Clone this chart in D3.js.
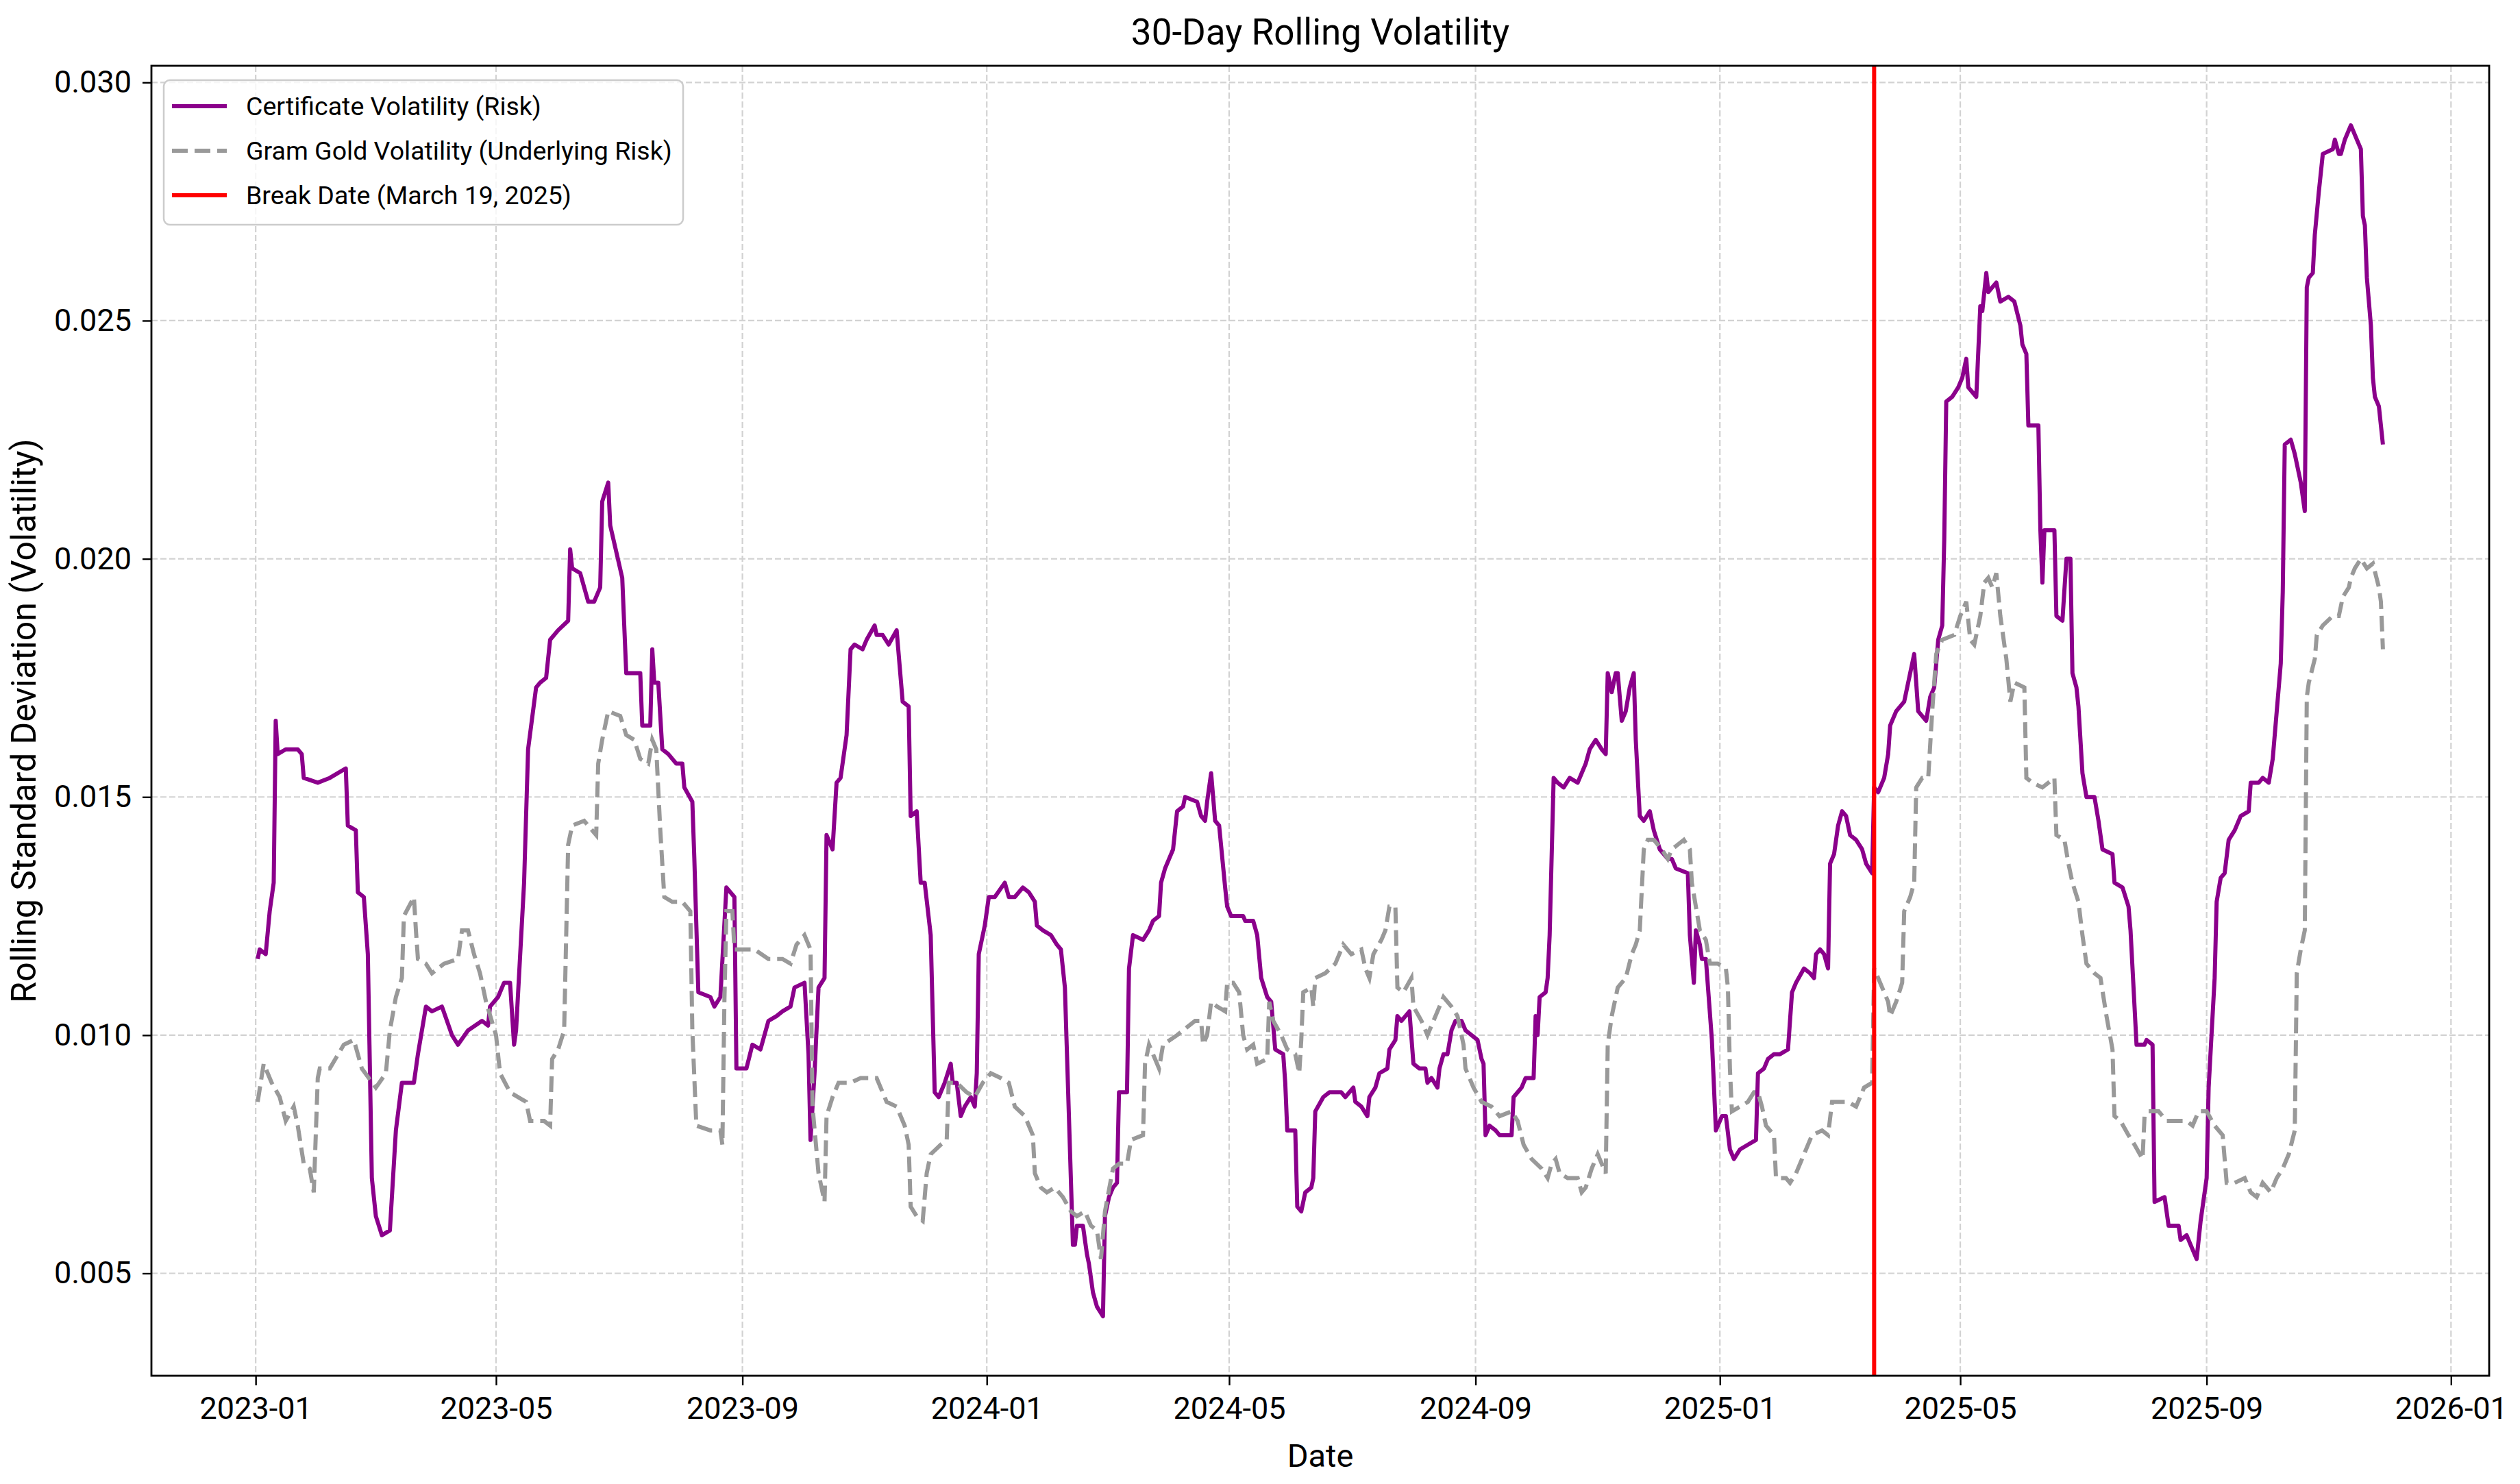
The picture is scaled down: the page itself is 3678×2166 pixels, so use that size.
<!DOCTYPE html>
<html lang="en">
<head>
  <title>30-Day Rolling Volatility</title>
  <script type="text/javascript" src="https://cdnjs.cloudflare.com/ajax/libs/d3/7.8.5/d3.min.js"></script>
  <style>
    body {
      margin: 0px;
      background: #ffffff;
    }
    svg {
      display: block;
    }
    text {
      font-family: Roboto, "Liberation Sans", sans-serif;
      fill: #000000;
    }
  </style>
</head>
<body>
  <script type="text/javascript">
    var width = 3678;
    var height = 2166;
    var margin = {top: 96, right: 45, bottom: 158, left: 221};

    // rolling std of the certificate returns
    var certificate = [
      ["2023-01-02",0.0116],["2023-01-03",0.0118],["2023-01-06",0.0117],["2023-01-08",0.0126],["2023-01-10",0.0132],
      ["2023-01-11",0.0166],["2023-01-12",0.0159],["2023-01-16",0.0160],["2023-01-22",0.0160],["2023-01-24",0.0159],
      ["2023-01-25",0.0154],["2023-02-01",0.0153],["2023-02-07",0.0154],["2023-02-15",0.0156],["2023-02-16",0.0144],
      ["2023-02-20",0.0143],["2023-02-21",0.0130],["2023-02-24",0.0129],["2023-02-26",0.0117],["2023-02-28",0.0070],
      ["2023-03-02",0.0062],["2023-03-05",0.0058],["2023-03-09",0.0059],["2023-03-12",0.0080],["2023-03-15",0.0090],
      ["2023-03-21",0.0090],["2023-03-23",0.0096],["2023-03-27",0.0106],["2023-03-30",0.0105],["2023-04-04",0.0106],
      ["2023-04-09",0.0100],["2023-04-12",0.0098],["2023-04-17",0.0101],["2023-04-24",0.0103],["2023-04-27",0.0102],
      ["2023-04-28",0.0106],["2023-05-02",0.0108],["2023-05-05",0.0111],["2023-05-08",0.0111],["2023-05-10",0.0098],
      ["2023-05-11",0.0101],["2023-05-15",0.0132],["2023-05-17",0.0160],["2023-05-21",0.0173],["2023-05-23",0.0174],
      ["2023-05-26",0.0175],["2023-05-28",0.0183],["2023-06-01",0.0185],["2023-06-06",0.0187],["2023-06-07",0.0202],
      ["2023-06-08",0.0198],["2023-06-12",0.0197],["2023-06-16",0.0191],["2023-06-19",0.0191],["2023-06-22",0.0194],
      ["2023-06-23",0.0212],["2023-06-26",0.0216],["2023-06-27",0.0207],["2023-07-03",0.0196],["2023-07-04",0.0186],
      ["2023-07-05",0.0176],["2023-07-12",0.0176],["2023-07-13",0.0165],["2023-07-17",0.0165],["2023-07-18",0.0181],
      ["2023-07-19",0.0174],["2023-07-21",0.0174],["2023-07-23",0.0160],["2023-07-26",0.0159],["2023-07-30",0.0157],
      ["2023-08-02",0.0157],["2023-08-03",0.0152],["2023-08-07",0.0149],["2023-08-08",0.0137],["2023-08-10",0.0109],
      ["2023-08-16",0.0108],["2023-08-18",0.0106],["2023-08-21",0.0108],["2023-08-24",0.0131],["2023-08-28",0.0129],
      ["2023-08-29",0.0093],["2023-09-03",0.0093],["2023-09-06",0.0098],["2023-09-10",0.0097],["2023-09-14",0.0103],
      ["2023-09-18",0.0104],["2023-09-21",0.0105],["2023-09-25",0.0106],["2023-09-27",0.0110],["2023-10-02",0.0111],
      ["2023-10-04",0.0096],["2023-10-05",0.0078],["2023-10-07",0.0092],["2023-10-09",0.0110],["2023-10-12",0.0112],
      ["2023-10-13",0.0142],["2023-10-16",0.0139],["2023-10-18",0.0153],["2023-10-20",0.0154],["2023-10-23",0.0163],
      ["2023-10-25",0.0181],["2023-10-27",0.0182],["2023-10-31",0.0181],["2023-11-02",0.0183],["2023-11-06",0.0186],
      ["2023-11-07",0.0184],["2023-11-10",0.0184],["2023-11-13",0.0182],["2023-11-17",0.0185],["2023-11-20",0.0170],
      ["2023-11-23",0.0169],["2023-11-24",0.0146],["2023-11-27",0.0147],["2023-11-29",0.0132],["2023-12-01",0.0132],
      ["2023-12-04",0.0121],["2023-12-06",0.0088],["2023-12-08",0.0087],["2023-12-11",0.0090],["2023-12-14",0.0094],
      ["2023-12-15",0.0090],["2023-12-17",0.0090],["2023-12-19",0.0083],["2023-12-21",0.0085],["2023-12-24",0.0087],
      ["2023-12-26",0.0085],["2023-12-27",0.0092],["2023-12-28",0.0117],["2023-12-31",0.0123],
      ["2024-01-02",0.0129],["2024-01-05",0.0129],["2024-01-10",0.0132],["2024-01-12",0.0129],["2024-01-15",0.0129],
      ["2024-01-19",0.0131],["2024-01-22",0.0130],["2024-01-25",0.0128],["2024-01-26",0.0123],["2024-01-29",0.0122],
      ["2024-02-02",0.0121],["2024-02-05",0.0119],["2024-02-07",0.0118],["2024-02-09",0.0110],["2024-02-11",0.0083],
      ["2024-02-13",0.0056],["2024-02-14",0.0056],["2024-02-15",0.0060],["2024-02-18",0.0060],["2024-02-20",0.0054],
      ["2024-02-21",0.0052],["2024-02-23",0.0046],["2024-02-25",0.0043],["2024-02-28",0.0041],["2024-02-29",0.0062],
      ["2024-03-02",0.0066],["2024-03-04",0.0068],["2024-03-06",0.0069],["2024-03-07",0.0088],["2024-03-11",0.0088],
      ["2024-03-12",0.0114],["2024-03-14",0.0121],["2024-03-19",0.0120],["2024-03-22",0.0122],["2024-03-24",0.0124],
      ["2024-03-27",0.0125],["2024-03-28",0.0132],["2024-03-30",0.0135],["2024-04-01",0.0137],["2024-04-03",0.0139],
      ["2024-04-05",0.0147],["2024-04-08",0.0148],["2024-04-09",0.0150],["2024-04-15",0.0149],["2024-04-17",0.0146],
      ["2024-04-19",0.0145],["2024-04-20",0.0149],["2024-04-22",0.0155],["2024-04-23",0.0150],["2024-04-24",0.0145],
      ["2024-04-26",0.0144],["2024-04-29",0.0131],["2024-04-30",0.0127],["2024-05-02",0.0125],["2024-05-08",0.0125],
      ["2024-05-09",0.0124],["2024-05-13",0.0124],["2024-05-15",0.0121],["2024-05-17",0.0112],["2024-05-20",0.0108],
      ["2024-05-22",0.0107],["2024-05-24",0.0097],["2024-05-28",0.0096],["2024-05-29",0.0090],["2024-05-30",0.0080],
      ["2024-06-03",0.0080],["2024-06-04",0.0064],["2024-06-06",0.0063],["2024-06-08",0.0067],["2024-06-11",0.0068],
      ["2024-06-12",0.0070],["2024-06-13",0.0084],["2024-06-17",0.0087],["2024-06-20",0.0088],["2024-06-25",0.0088],
      ["2024-06-26",0.0088],["2024-06-28",0.0087],["2024-07-02",0.0089],["2024-07-03",0.0086],["2024-07-06",0.0085],
      ["2024-07-09",0.0083],["2024-07-10",0.0087],["2024-07-13",0.0089],["2024-07-15",0.0092],["2024-07-19",0.0093],
      ["2024-07-20",0.0097],["2024-07-23",0.0099],["2024-07-24",0.0104],["2024-07-26",0.0103],["2024-07-28",0.0104],
      ["2024-07-30",0.0105],["2024-08-01",0.0094],["2024-08-04",0.0093],["2024-08-07",0.0093],["2024-08-08",0.0090],
      ["2024-08-10",0.0091],["2024-08-13",0.0089],["2024-08-14",0.0093],["2024-08-16",0.0096],["2024-08-18",0.0096],
      ["2024-08-20",0.0101],["2024-08-22",0.0103],["2024-08-25",0.0103],["2024-08-27",0.0101],["2024-08-30",0.0100],
      ["2024-09-02",0.0099],["2024-09-04",0.0095],["2024-09-05",0.0094],["2024-09-06",0.0079],["2024-09-08",0.0081],
      ["2024-09-11",0.0080],["2024-09-13",0.0079],["2024-09-19",0.0079],["2024-09-20",0.0087],["2024-09-24",0.0089],
      ["2024-09-26",0.0091],["2024-09-30",0.0091],["2024-10-01",0.0104],["2024-10-02",0.0100],["2024-10-03",0.0108],
      ["2024-10-06",0.0109],["2024-10-07",0.0112],["2024-10-08",0.0121],["2024-10-10",0.0154],["2024-10-12",0.0153],
      ["2024-10-15",0.0152],["2024-10-18",0.0154],["2024-10-22",0.0153],["2024-10-24",0.0155],["2024-10-26",0.0157],
      ["2024-10-28",0.0160],["2024-10-31",0.0162],["2024-11-03",0.0160],["2024-11-05",0.0159],["2024-11-06",0.0176],
      ["2024-11-08",0.0172],["2024-11-10",0.0176],["2024-11-11",0.0176],["2024-11-13",0.0166],["2024-11-15",0.0168],
      ["2024-11-17",0.0173],["2024-11-19",0.0176],["2024-11-20",0.0162],["2024-11-22",0.0146],["2024-11-24",0.0145],
      ["2024-11-27",0.0147],["2024-11-29",0.0143],["2024-12-02",0.0139],["2024-12-06",0.0137],["2024-12-08",0.0137],
      ["2024-12-10",0.0135],["2024-12-16",0.0134],["2024-12-17",0.0121],["2024-12-19",0.0111],["2024-12-20",0.0122],
      ["2024-12-22",0.0119],["2024-12-23",0.0116],["2024-12-25",0.0116],["2024-12-28",0.0099],["2024-12-30",0.0080],
      ["2025-01-02",0.0083],["2025-01-04",0.0083],["2025-01-06",0.0076],["2025-01-08",0.0074],["2025-01-11",0.0076],
      ["2025-01-15",0.0077],["2025-01-19",0.0078],["2025-01-20",0.0092],["2025-01-23",0.0093],["2025-01-25",0.0095],
      ["2025-01-28",0.0096],["2025-01-31",0.0096],["2025-02-04",0.0097],["2025-02-06",0.0109],["2025-02-08",0.0111],
      ["2025-02-12",0.0114],["2025-02-15",0.0113],["2025-02-17",0.0112],["2025-02-18",0.0117],["2025-02-20",0.0118],
      ["2025-02-22",0.0117],["2025-02-24",0.0114],["2025-02-25",0.0136],["2025-02-27",0.0138],["2025-03-01",0.0144],
      ["2025-03-03",0.0147],["2025-03-05",0.0146],["2025-03-07",0.0142],["2025-03-10",0.0141],["2025-03-13",0.0139],
      ["2025-03-15",0.0136],["2025-03-18",0.0134],["2025-03-19",0.0152],["2025-03-21",0.0151],["2025-03-24",0.0154],
      ["2025-03-26",0.0159],["2025-03-27",0.0165],["2025-03-30",0.0168],["2025-04-03",0.0170],["2025-04-06",0.0176],
      ["2025-04-08",0.0180],["2025-04-10",0.0168],["2025-04-14",0.0166],["2025-04-16",0.0171],["2025-04-18",0.0173],
      ["2025-04-20",0.0183],["2025-04-22",0.0186],["2025-04-23",0.0204],["2025-04-24",0.0233],["2025-04-27",0.0234],
      ["2025-04-30",0.0236],["2025-05-02",0.0238],["2025-05-04",0.0242],["2025-05-05",0.0236],["2025-05-07",0.0235],
      ["2025-05-09",0.0234],["2025-05-11",0.0253],["2025-05-12",0.0252],["2025-05-14",0.0260],["2025-05-15",0.0256],
      ["2025-05-19",0.0258],["2025-05-21",0.0254],["2025-05-25",0.0255],["2025-05-28",0.0254],["2025-05-31",0.0249],
      ["2025-06-01",0.0245],["2025-06-03",0.0243],["2025-06-04",0.0228],["2025-06-09",0.0228],["2025-06-10",0.0206],
      ["2025-06-11",0.0195],["2025-06-12",0.0206],["2025-06-17",0.0206],["2025-06-18",0.0188],["2025-06-21",0.0187],
      ["2025-06-23",0.0200],["2025-06-25",0.0200],["2025-06-26",0.0176],["2025-06-28",0.0173],["2025-06-29",0.0169],
      ["2025-07-01",0.0155],["2025-07-03",0.0150],["2025-07-07",0.0150],["2025-07-09",0.0145],["2025-07-11",0.0139],
      ["2025-07-16",0.0138],["2025-07-17",0.0132],["2025-07-21",0.0131],["2025-07-24",0.0127],["2025-07-25",0.0122],
      ["2025-07-28",0.0098],["2025-08-01",0.0098],["2025-08-02",0.0099],["2025-08-05",0.0098],["2025-08-06",0.0065],
      ["2025-08-11",0.0066],["2025-08-13",0.0060],["2025-08-18",0.0060],["2025-08-19",0.0057],["2025-08-22",0.0058],
      ["2025-08-24",0.0056],["2025-08-27",0.0053],["2025-08-29",0.0061],["2025-09-01",0.0070],["2025-09-02",0.0089],
      ["2025-09-05",0.0112],["2025-09-06",0.0128],["2025-09-08",0.0133],["2025-09-10",0.0134],["2025-09-12",0.0141],
      ["2025-09-15",0.0143],["2025-09-18",0.0146],["2025-09-22",0.0147],["2025-09-23",0.0153],["2025-09-27",0.0153],
      ["2025-09-29",0.0154],["2025-10-02",0.0153],["2025-10-04",0.0158],["2025-10-06",0.0168],["2025-10-08",0.0178],
      ["2025-10-09",0.0193],["2025-10-10",0.0224],["2025-10-13",0.0225],["2025-10-15",0.0222],["2025-10-18",0.0216],
      ["2025-10-20",0.0210],["2025-10-21",0.0257],["2025-10-22",0.0259],["2025-10-24",0.0260],["2025-10-25",0.0268],
      ["2025-10-27",0.0277],["2025-10-29",0.0285],["2025-11-03",0.0286],["2025-11-04",0.0288],["2025-11-06",0.0285],
      ["2025-11-07",0.0285],["2025-11-09",0.0288],["2025-11-12",0.0291],["2025-11-14",0.0289],["2025-11-17",0.0286],
      ["2025-11-18",0.0272],["2025-11-19",0.0270],["2025-11-20",0.0259],["2025-11-22",0.0249],["2025-11-23",0.0238],
      ["2025-11-24",0.0234],["2025-11-26",0.0232],["2025-11-28",0.0224]
    ];

    // rolling std of gram gold returns
    var gramGold = [
      ["2023-01-02",0.0086],["2023-01-05",0.0094],["2023-01-09",0.0090],["2023-01-13",0.0087],["2023-01-16",0.0082],
      ["2023-01-20",0.0085],["2023-01-22",0.0081],["2023-01-25",0.0073],["2023-01-28",0.0072],["2023-01-30",0.0067],
      ["2023-02-01",0.0091],["2023-02-02",0.0093],["2023-02-07",0.0093],["2023-02-14",0.0098],["2023-02-19",0.0099],
      ["2023-02-23",0.0093],["2023-03-02",0.0089],["2023-03-07",0.0092],["2023-03-09",0.0101],["2023-03-12",0.0108],
      ["2023-03-15",0.0112],["2023-03-16",0.0125],["2023-03-21",0.0129],["2023-03-22",0.0122],["2023-03-23",0.0116],
      ["2023-03-27",0.0115],["2023-03-30",0.0113],["2023-04-05",0.0115],["2023-04-12",0.0116],["2023-04-14",0.0122],
      ["2023-04-17",0.0122],["2023-04-20",0.0117],["2023-04-23",0.0113],["2023-04-26",0.0107],["2023-05-01",0.0100],
      ["2023-05-03",0.0092],["2023-05-08",0.0088],["2023-05-16",0.0086],["2023-05-18",0.0082],["2023-05-25",0.0082],
      ["2023-05-28",0.0081],["2023-05-29",0.0095],["2023-06-01",0.0097],["2023-06-04",0.0101],["2023-06-06",0.0140],
      ["2023-06-08",0.0144],["2023-06-14",0.0145],["2023-06-16",0.0144],["2023-06-20",0.0142],["2023-06-21",0.0157],
      ["2023-06-23",0.0162],["2023-06-26",0.0168],["2023-07-02",0.0167],["2023-07-05",0.0163],["2023-07-09",0.0162],
      ["2023-07-12",0.0158],["2023-07-16",0.0157],["2023-07-18",0.0162],["2023-07-20",0.0160],["2023-07-22",0.0143],
      ["2023-07-24",0.0129],["2023-07-28",0.0128],["2023-08-02",0.0128],["2023-08-06",0.0126],["2023-08-07",0.0101],
      ["2023-08-09",0.0081],["2023-08-16",0.0080],["2023-08-21",0.0080],["2023-08-22",0.0077],["2023-08-23",0.0107],
      ["2023-08-24",0.0126],["2023-08-27",0.0126],["2023-08-28",0.0118],["2023-09-02",0.0118],["2023-09-07",0.0118],
      ["2023-09-14",0.0116],["2023-09-21",0.0116],["2023-09-25",0.0115],["2023-09-28",0.0119],["2023-10-02",0.0121],
      ["2023-10-05",0.0118],["2023-10-06",0.0085],["2023-10-09",0.0071],["2023-10-12",0.0065],["2023-10-13",0.0083],
      ["2023-10-16",0.0087],["2023-10-19",0.0090],["2023-10-25",0.0090],["2023-10-30",0.0091],["2023-11-07",0.0091],
      ["2023-11-12",0.0086],["2023-11-17",0.0085],["2023-11-21",0.0081],["2023-11-23",0.0077],["2023-11-24",0.0064],
      ["2023-11-27",0.0062],["2023-11-30",0.0061],["2023-12-02",0.0071],["2023-12-04",0.0075],["2023-12-09",0.0077],
      ["2023-12-12",0.0078],["2023-12-13",0.0090],["2023-12-17",0.0090],["2023-12-22",0.0088],["2023-12-26",0.0087],
      ["2023-12-30",0.0090],
      ["2024-01-03",0.0092],["2024-01-08",0.0091],["2024-01-12",0.0090],["2024-01-15",0.0085],["2024-01-20",0.0083],
      ["2024-01-24",0.0079],["2024-01-25",0.0071],["2024-01-28",0.0068],["2024-01-31",0.0067],["2024-02-04",0.0068],
      ["2024-02-08",0.0066],["2024-02-12",0.0063],["2024-02-15",0.0062],["2024-02-19",0.0063],["2024-02-22",0.0060],
      ["2024-02-25",0.0059],["2024-02-27",0.0053],["2024-02-29",0.0063],["2024-03-04",0.0072],["2024-03-07",0.0073],
      ["2024-03-11",0.0073],["2024-03-13",0.0078],["2024-03-19",0.0079],["2024-03-20",0.0094],["2024-03-22",0.0098],
      ["2024-03-24",0.0096],["2024-03-27",0.0093],["2024-03-29",0.0098],["2024-04-05",0.0100],["2024-04-08",0.0101],
      ["2024-04-14",0.0103],["2024-04-17",0.0103],["2024-04-18",0.0098],["2024-04-20",0.0100],["2024-04-22",0.0107],
      ["2024-04-25",0.0106],["2024-04-29",0.0105],["2024-04-30",0.0111],["2024-05-03",0.0111],["2024-05-06",0.0109],
      ["2024-05-08",0.0100],["2024-05-10",0.0097],["2024-05-13",0.0098],["2024-05-15",0.0094],["2024-05-20",0.0095],
      ["2024-05-21",0.0107],["2024-05-23",0.0103],["2024-05-27",0.0100],["2024-05-30",0.0097],["2024-06-03",0.0096],
      ["2024-06-05",0.0092],["2024-06-06",0.0099],["2024-06-07",0.0109],["2024-06-11",0.0110],["2024-06-12",0.0106],
      ["2024-06-13",0.0112],["2024-06-18",0.0113],["2024-06-23",0.0115],["2024-06-27",0.0119],["2024-07-01",0.0117],
      ["2024-07-06",0.0118],["2024-07-08",0.0114],["2024-07-10",0.0112],["2024-07-12",0.0117],["2024-07-16",0.0120],
      ["2024-07-18",0.0122],["2024-07-20",0.0127],["2024-07-23",0.0127],["2024-07-24",0.0110],["2024-07-27",0.0109],
      ["2024-07-31",0.0112],["2024-08-01",0.0106],["2024-08-05",0.0103],["2024-08-08",0.0100],["2024-08-12",0.0104],
      ["2024-08-16",0.0108],["2024-08-20",0.0106],["2024-08-23",0.0104],["2024-08-26",0.0098],["2024-08-27",0.0093],
      ["2024-08-31",0.0089],["2024-09-04",0.0086],["2024-09-09",0.0085],["2024-09-13",0.0083],["2024-09-19",0.0084],
      ["2024-09-22",0.0082],["2024-09-25",0.0077],["2024-09-29",0.0074],["2024-10-04",0.0072],["2024-10-07",0.0070],
      ["2024-10-09",0.0073],["2024-10-11",0.0074],["2024-10-13",0.0071],["2024-10-17",0.0070],["2024-10-22",0.0070],
      ["2024-10-24",0.0067],["2024-10-26",0.0068],["2024-10-29",0.0072],["2024-11-01",0.0075],["2024-11-03",0.0073],
      ["2024-11-05",0.0071],["2024-11-06",0.0098],["2024-11-08",0.0104],["2024-11-11",0.0110],["2024-11-15",0.0112],
      ["2024-11-18",0.0117],["2024-11-20",0.0119],["2024-11-22",0.0122],["2024-11-24",0.0139],["2024-11-26",0.0141],
      ["2024-11-29",0.0141],["2024-12-03",0.0139],["2024-12-06",0.0137],["2024-12-08",0.0139],["2024-12-11",0.0140],
      ["2024-12-14",0.0141],["2024-12-17",0.0139],["2024-12-18",0.0132],["2024-12-22",0.0122],["2024-12-25",0.0120],
      ["2024-12-27",0.0115],["2024-12-31",0.0115],
      ["2025-01-04",0.0114],["2025-01-05",0.0110],["2025-01-06",0.0093],["2025-01-07",0.0084],["2025-01-11",0.0085],
      ["2025-01-15",0.0086],["2025-01-18",0.0088],["2025-01-20",0.0088],["2025-01-22",0.0085],["2025-01-24",0.0081],
      ["2025-01-28",0.0079],["2025-01-29",0.0070],["2025-02-03",0.0070],["2025-02-05",0.0069],["2025-02-08",0.0071],
      ["2025-02-12",0.0075],["2025-02-16",0.0079],["2025-02-21",0.0080],["2025-02-24",0.0079],["2025-02-26",0.0086],
      ["2025-03-01",0.0086],["2025-03-06",0.0086],["2025-03-10",0.0085],["2025-03-14",0.0089],["2025-03-18",0.0090],
      ["2025-03-19",0.0114],["2025-03-23",0.0110],["2025-03-26",0.0107],["2025-03-27",0.0104],["2025-03-30",0.0107],
      ["2025-04-02",0.0111],["2025-04-03",0.0126],["2025-04-06",0.0129],["2025-04-08",0.0132],["2025-04-09",0.0152],
      ["2025-04-12",0.0154],["2025-04-15",0.0154],["2025-04-17",0.0168],["2025-04-19",0.0180],["2025-04-22",0.0183],
      ["2025-04-28",0.0184],["2025-05-01",0.0188],["2025-05-04",0.0191],["2025-05-06",0.0183],["2025-05-08",0.0182],
      ["2025-05-11",0.0188],["2025-05-13",0.0195],["2025-05-15",0.0196],["2025-05-17",0.0194],["2025-05-19",0.0197],
      ["2025-05-21",0.0188],["2025-05-24",0.0179],["2025-05-26",0.0170],["2025-05-28",0.0174],["2025-06-02",0.0173],
      ["2025-06-03",0.0154],["2025-06-06",0.0153],["2025-06-11",0.0152],["2025-06-17",0.0154],["2025-06-18",0.0142],
      ["2025-06-22",0.0141],["2025-06-24",0.0136],["2025-06-26",0.0132],["2025-06-29",0.0128],["2025-07-01",0.0121],
      ["2025-07-03",0.0115],["2025-07-07",0.0113],["2025-07-10",0.0112],["2025-07-13",0.0104],["2025-07-16",0.0097],
      ["2025-07-17",0.0083],["2025-07-20",0.0082],["2025-07-24",0.0079],["2025-07-27",0.0077],["2025-07-31",0.0074],
      ["2025-08-01",0.0083],["2025-08-03",0.0084],["2025-08-08",0.0084],["2025-08-12",0.0082],["2025-08-17",0.0082],
      ["2025-08-22",0.0082],["2025-08-25",0.0081],["2025-08-28",0.0084],["2025-09-01",0.0084],["2025-09-05",0.0081],
      ["2025-09-09",0.0079],["2025-09-11",0.0069],["2025-09-15",0.0069],["2025-09-20",0.0070],["2025-09-23",0.0067],
      ["2025-09-26",0.0066],["2025-09-29",0.0069],["2025-10-03",0.0067],["2025-10-06",0.0070],["2025-10-09",0.0072],
      ["2025-10-12",0.0075],["2025-10-15",0.0080],["2025-10-16",0.0113],["2025-10-18",0.0118],["2025-10-20",0.0122],
      ["2025-10-21",0.0171],["2025-10-22",0.0174],["2025-10-25",0.0179],["2025-10-26",0.0184],["2025-10-29",0.0186],
      ["2025-11-03",0.0188],["2025-11-06",0.0188],["2025-11-08",0.0192],["2025-11-11",0.0194],["2025-11-12",0.0196],
      ["2025-11-14",0.0198],["2025-11-17",0.0200],["2025-11-20",0.0198],["2025-11-23",0.0199],["2025-11-26",0.0194],
      ["2025-11-27",0.0191],["2025-11-28",0.0181]
    ];

    var breakDate = "2025-03-19";
    var yTicks = [0.005, 0.010, 0.015, 0.020, 0.025, 0.030];
    var legendLabels = ["Certificate Volatility (Risk)", "Gram Gold Volatility (Underlying Risk)", "Break Date (March 19, 2025)"];

    var parseDate = d3.timeParse("%Y-%m-%d");
    var cert = certificate.map(function (d) { return {date: parseDate(d[0]), value: d[1]}; });
    var gold = gramGold.map(function (d) { return {date: parseDate(d[0]), value: d[1]}; });
    var all = cert.concat(gold);

    var plotW = width - margin.left - margin.right;
    var plotH = height - margin.top - margin.bottom;

    // matplotlib style 5% padding on both axes
    var xExt = d3.extent(all, function (d) { return d.date; });
    var xPad = (xExt[1] - xExt[0]) * 0.05;
    var x = d3.scaleTime()
      .domain([new Date(+xExt[0] - xPad), new Date(+xExt[1] + xPad)])
      .range([0, plotW]);

    var yExt = d3.extent(all, function (d) { return d.value; });
    var yPad = (yExt[1] - yExt[0]) * 0.05;
    var y = d3.scaleLinear()
      .domain([yExt[0] - yPad, yExt[1] + yPad])
      .range([plotH, 0]);

    var svg = d3.select("body").append("svg")
      .attr("width", width)
      .attr("height", height);

    svg.append("rect").attr("width", width).attr("height", height).attr("fill", "#ffffff");

    var g = svg.append("g").attr("transform", "translate(" + margin.left + "," + margin.top + ")");

    var xTicks = x.ticks(d3.timeMonth.every(4));

    // grid
    g.append("g").selectAll("line").data(xTicks).enter().append("line")
      .attr("x1", function (d) { return x(d); })
      .attr("x2", function (d) { return x(d); })
      .attr("y1", 0).attr("y2", plotH)
      .attr("stroke", "#d2d2d2").attr("stroke-width", 2.2).attr("stroke-dasharray", "9,4");
    g.append("g").selectAll("line").data(yTicks).enter().append("line")
      .attr("x1", 0).attr("x2", plotW)
      .attr("y1", function (d) { return y(d); })
      .attr("y2", function (d) { return y(d); })
      .attr("stroke", "#d2d2d2").attr("stroke-width", 2.2).attr("stroke-dasharray", "9,4");

    var line = d3.line()
      .x(function (d) { return x(d.date); })
      .y(function (d) { return y(d.value); });

    g.append("path").datum(cert)
      .attr("d", line)
      .attr("fill", "none")
      .attr("stroke", "#8b008b")
      .attr("stroke-width", 6)
      .attr("stroke-linejoin", "round");

    g.append("path").datum(gold)
      .attr("d", line)
      .attr("fill", "none")
      .attr("stroke", "#999999")
      .attr("stroke-width", 6)
      .attr("stroke-dasharray", "23,10");

    g.append("line")
      .attr("x1", x(parseDate(breakDate))).attr("x2", x(parseDate(breakDate)))
      .attr("y1", 0).attr("y2", plotH)
      .attr("stroke", "#ff0000").attr("stroke-width", 6);

    // axes
    var xAxis = g.append("g")
      .attr("transform", "translate(0," + plotH + ")")
      .call(d3.axisBottom(x).tickValues(xTicks).tickFormat(d3.timeFormat("%Y-%m")).tickSize(14).tickPadding(17));
    var yAxis = g.append("g")
      .call(d3.axisLeft(y).tickValues(yTicks).tickFormat(d3.format(".3f")).tickSize(13).tickPadding(16));

    [xAxis, yAxis].forEach(function (a) {
      a.select(".domain").remove();
      a.selectAll(".tick line").attr("stroke", "#000000").attr("stroke-width", 2.4);
      a.selectAll(".tick text").attr("font-size", 45).attr("font-family", "Roboto, sans-serif").attr("fill", "#000000");
    });

    g.append("rect")
      .attr("width", plotW).attr("height", plotH)
      .attr("fill", "none").attr("stroke", "#000000").attr("stroke-width", 2.8);

    // legend
    var legend = g.append("g").attr("transform", "translate(18,21)");
    legend.append("rect")
      .attr("width", 758).attr("height", 211).attr("rx", 9)
      .attr("fill", "#ffffff").attr("fill-opacity", 0.8)
      .attr("stroke", "#cccccc").attr("stroke-width", 2.5);
    var legendStyles = [
      {stroke: "#8b008b", dash: null},
      {stroke: "#999999", dash: "23,10"},
      {stroke: "#ff0000", dash: null}
    ];
    var rows = legend.selectAll("g.row").data(legendLabels).enter().append("g")
      .attr("class", "row")
      .attr("transform", function (d, i) { return "translate(0," + (38 + i * 65) + ")"; });
    rows.append("line")
      .attr("x1", 12).attr("x2", 92).attr("y1", 0).attr("y2", 0)
      .attr("stroke", function (d, i) { return legendStyles[i].stroke; })
      .attr("stroke-width", 6)
      .attr("stroke-dasharray", function (d, i) { return legendStyles[i].dash; });
    rows.append("text")
      .attr("x", 120).attr("y", 0).attr("dy", "0.35em")
      .attr("font-size", 37.5)
      .text(function (d) { return d; });

    // titles
    svg.append("text")
      .attr("x", margin.left + plotW / 2).attr("y", 65)
      .attr("text-anchor", "middle").attr("font-size", 53)
      .text("30-Day Rolling Volatility");

    svg.append("text")
      .attr("x", margin.left + plotW / 2).attr("y", 2141)
      .attr("text-anchor", "middle").attr("font-size", 47)
      .text("Date");

    svg.append("text")
      .attr("transform", "translate(52," + (margin.top + plotH / 2) + ") rotate(-90)")
      .attr("text-anchor", "middle").attr("font-size", 50)
      .attr("font-family", "'Open Sans', 'Liberation Sans', sans-serif")
      .text("Rolling Standard Deviation (Volatility)");
  </script>
</body>
</html>
